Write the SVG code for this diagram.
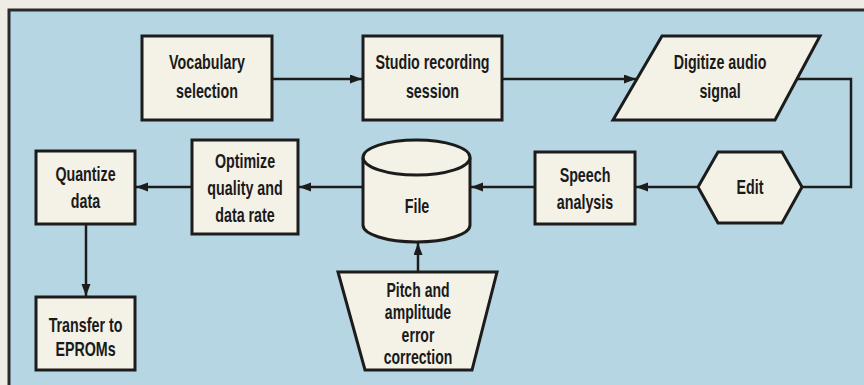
<svg xmlns="http://www.w3.org/2000/svg" width="864" height="385" viewBox="0 0 864 385">
<defs>
<style>
.node{fill:#f4f1e6;stroke:#1c1c1c;stroke-width:3;stroke-linejoin:miter}
.conn{fill:none;stroke:#1c1c1c;stroke-width:2.5}
.lbl{font-family:"Liberation Sans",Arial,sans-serif;font-weight:bold;font-size:21px;fill:#1a1a1a;text-anchor:middle}
</style>
<marker id="ah" markerUnits="userSpaceOnUse" markerWidth="13" markerHeight="10" refX="12" refY="4.5" orient="auto">
<path d="M0,0 L12,4.5 L0,9 Z" fill="#1c1c1c"/>
</marker>
</defs>
<rect x="0" y="0" width="864" height="385" fill="#efece5"/>
<rect id="frame" x="9" y="10" width="880" height="400" fill="#b6d6e3" stroke="#2a2a2a" stroke-width="3"/>
<g id="connectors">
<path class="conn" d="M272,79 H362" marker-end="url(#ah)"/>
<path class="conn" d="M502,79 H636" marker-end="url(#ah)"/>
<path class="conn" d="M797,79 H851 V187 H802"/>
<path class="conn" d="M698,187 H636" marker-end="url(#ah)"/>
<path class="conn" d="M535,187 H471" marker-end="url(#ah)"/>
<path class="conn" d="M363,187 H299" marker-end="url(#ah)"/>
<path class="conn" d="M192,187 H136" marker-end="url(#ah)"/>
<path class="conn" d="M86,224 V296" marker-end="url(#ah)"/>
<path class="conn" d="M418,272 V243" marker-end="url(#ah)"/>
</g>
<g id="vocab">
<rect class="node" x="142" y="36" width="130" height="84"/>
<text class="lbl" transform="translate(207,0) scale(0.68,1)"><tspan x="0" y="69">Vocabulary</tspan><tspan x="0" y="98">selection</tspan></text>
</g>
<g id="studio">
<rect class="node" x="363" y="36" width="139" height="84"/>
<text class="lbl" transform="translate(432.5,0) scale(0.68,1)"><tspan x="0" y="69">Studio recording</tspan><tspan x="0" y="98">session</tspan></text>
</g>
<g id="digitize">
<polygon class="node" points="662,36 820,36 775,120 613,120"/>
<text class="lbl" transform="translate(720,0) scale(0.68,1)"><tspan x="0" y="69">Digitize audio</tspan><tspan x="0" y="98">signal</tspan></text>
</g>
<g id="edit">
<polygon class="node" points="698,187 718,152 782,152 802,187 782,223 718,223"/>
<text class="lbl" transform="translate(750,0) scale(0.68,1)"><tspan x="0" y="194">Edit</tspan></text>
</g>
<g id="speech">
<rect class="node" x="535" y="152" width="100" height="72"/>
<text class="lbl" transform="translate(585,0) scale(0.68,1)"><tspan x="0" y="182">Speech</tspan><tspan x="0" y="209">analysis</tspan></text>
</g>
<g id="file">
<path class="node" d="M363,157.5 A53.5,17.5 0 0 1 470,157.5 V225 A53.5,17 0 0 1 363,225 Z"/>
<path class="conn" style="stroke-width:3" d="M363,157.5 A53.5,17.5 0 0 0 470,157.5"/>
<text class="lbl" transform="translate(417,0) scale(0.68,1)"><tspan x="0" y="213">File</tspan></text>
</g>
<g id="optimize">
<rect class="node" x="192" y="140" width="106" height="94"/>
<text class="lbl" transform="translate(245,0) scale(0.68,1)"><tspan x="0" y="168">Optimize</tspan><tspan x="0" y="195">quality and</tspan><tspan x="0" y="222">data rate</tspan></text>
</g>
<g id="quantize">
<rect class="node" x="36" y="151" width="99" height="73"/>
<text class="lbl" transform="translate(85.5,0) scale(0.68,1)"><tspan x="0" y="181">Quantize</tspan><tspan x="0" y="208">data</tspan></text>
</g>
<g id="transfer">
<rect class="node" x="36" y="297" width="99" height="73"/>
<text class="lbl" transform="translate(85.5,0) scale(0.68,1)"><tspan x="0" y="332">Transfer to</tspan><tspan x="0" y="356">EPROMs</tspan></text>
</g>
<g id="pitch">
<polygon class="node" points="338,272 497,272 472,370 365,370"/>
<text class="lbl" style="font-size:19.5px" transform="translate(418,0) scale(0.72,1)"><tspan x="0" y="297">Pitch and</tspan><tspan x="0" y="319.5">amplitude</tspan><tspan x="0" y="342">error</tspan><tspan x="0" y="364.5">correction</tspan></text>
</g>
</svg>
